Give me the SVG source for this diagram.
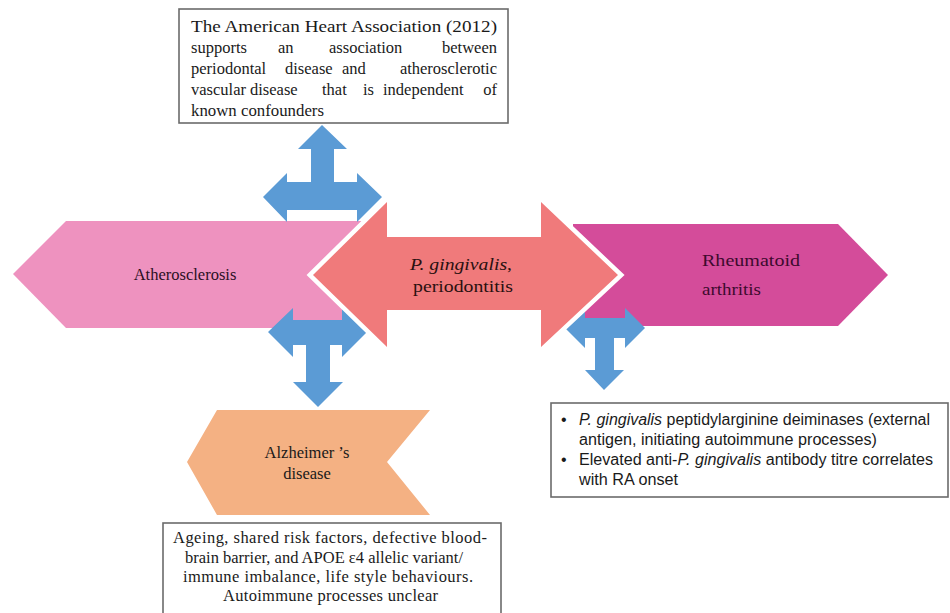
<svg xmlns="http://www.w3.org/2000/svg" width="950" height="613" viewBox="0 0 950 613">
<style>
.serif{font-family:"Liberation Serif","Times New Roman",serif;fill:#1a1a1a;font-size:16.5px}
.sans{font-family:"Liberation Sans",Arial,sans-serif;fill:#1a1a1a;font-size:16px}
.box{fill:#fff;stroke:#6b6b6b;stroke-width:1.6}
.blue{fill:#5B9BD5}
</style>
<rect width="950" height="613" fill="#fff"/>

<g id="atherosclerosis">
<polygon points="13,274 66,221 380,221 380,328 66,328" fill="#EE92BF"/>
<text class="serif" x="185" y="280" text-anchor="middle" style="fill:#2b0f1f">Atherosclerosis</text>
</g>

<g id="rheumatoid-arthritis">
<polygon points="573,224 838,224 888,275 838,326 573,326" fill="#D44C9A"/>
<text class="serif" x="702" y="266" textLength="98" lengthAdjust="spacingAndGlyphs" style="fill:#3d0a2e">Rheumatoid</text>
<text class="serif" x="702" y="295" textLength="59" lengthAdjust="spacingAndGlyphs" style="fill:#3d0a2e">arthritis</text>
</g>

<g id="alzheimers">
<polygon points="187,462 217,410 430,410 387,462 430,515 217,515" fill="#F4B183"/>
<text class="serif" text-anchor="middle"><tspan x="307" y="458">Alzheimer ’s</tspan><tspan x="307" y="479">disease</tspan></text>
</g>

<g id="connectors">
<polygon class="blue" points="322,125 347,149 334,149 334,182 357,182 357,173 382,197 357,222 357,210 287,210 287,222 263,197 287,173 287,182 311,182 311,149 298,149"/>
<polygon class="blue" points="268,332 293,308 293,320 342,320 342,308 367,332 342,357 342,345 330,345 330,382 343,382 318,407 293,382 306,382 306,345 293,345 293,357"/>
<polygon class="blue" points="565,328 585,308 585,318 625,318 625,308 645,328 625,348 625,338 614,338 614,370 624,370 604,390 585,370 595,370 595,338 585,338 585,348"/>
</g>

<g id="p-gingivalis">
<polygon points="313,275 387,202 387,237 541,237 541,202 618,275 541,347 541,310 387,310 387,347" fill="#F07A7B" stroke="#fff" stroke-width="9" paint-order="stroke" stroke-linejoin="miter"/>
<text class="serif" x="410" y="270" textLength="102" lengthAdjust="spacingAndGlyphs" style="fill:#2a1010"><tspan font-style="italic">P. gingivalis</tspan>,</text>
<text class="serif" x="413" y="292" textLength="100" lengthAdjust="spacingAndGlyphs" style="fill:#2a1010">periodontitis</text>
</g>

<g id="aha-box">
<rect class="box" x="179" y="9" width="329" height="114"/>
<text class="serif" x="191" y="32" textLength="306" lengthAdjust="spacingAndGlyphs">The American Heart Association (2012)</text>
<text class="serif" x="191" y="53">supports</text>
<text class="serif" x="278" y="53">an</text>
<text class="serif" x="329" y="53">association</text>
<text class="serif" x="497" y="53" text-anchor="end">between</text>
<text class="serif" x="191" y="74">periodontal</text>
<text class="serif" x="285" y="74">disease</text>
<text class="serif" x="342" y="74">and</text>
<text class="serif" x="497" y="74" text-anchor="end">atherosclerotic</text>
<text class="serif" x="191" y="95">vascular</text>
<text class="serif" x="250" y="95">disease</text>
<text class="serif" x="322" y="95">that</text>
<text class="serif" x="363" y="95">is</text>
<text class="serif" x="383" y="95">independent</text>
<text class="serif" x="497" y="95" text-anchor="end">of</text>
<text class="serif" x="191" y="116" textLength="133" lengthAdjust="spacingAndGlyphs">known confounders</text>
</g>

<g id="ra-box">
<rect class="box" x="551" y="403" width="397" height="94"/>
<text class="sans" x="561" y="425">•</text>
<text class="sans" x="579" y="425" textLength="351" lengthAdjust="spacingAndGlyphs"><tspan font-style="italic">P. gingivalis</tspan> peptidylarginine deiminases (external</text>
<text class="sans" x="579" y="445" textLength="298" lengthAdjust="spacingAndGlyphs">antigen, initiating autoimmune  processes)</text>
<text class="sans" x="561" y="465">•</text>
<text class="sans" x="579" y="465" textLength="354" lengthAdjust="spacingAndGlyphs">Elevated anti-<tspan font-style="italic">P. gingivalis</tspan> antibody titre correlates</text>
<text class="sans" x="579" y="485" textLength="99" lengthAdjust="spacingAndGlyphs">with RA onset</text>
</g>

<g id="alz-box">
<rect class="box" x="163" y="523" width="338" height="100"/>
<text class="serif" x="173" y="543" textLength="314" lengthAdjust="spacing">Ageing,  shared risk factors, defective  blood-</text>
<text class="serif" x="185" y="563" textLength="278" lengthAdjust="spacing">brain barrier, and APOE ε4 allelic  variant/</text>
<text class="serif" x="183" y="582" textLength="290" lengthAdjust="spacing">immune  imbalance, life style behaviours.</text>
<text class="serif" x="223" y="601" textLength="215" lengthAdjust="spacing">Autoimmune  processes unclear</text>
</g>
</svg>
